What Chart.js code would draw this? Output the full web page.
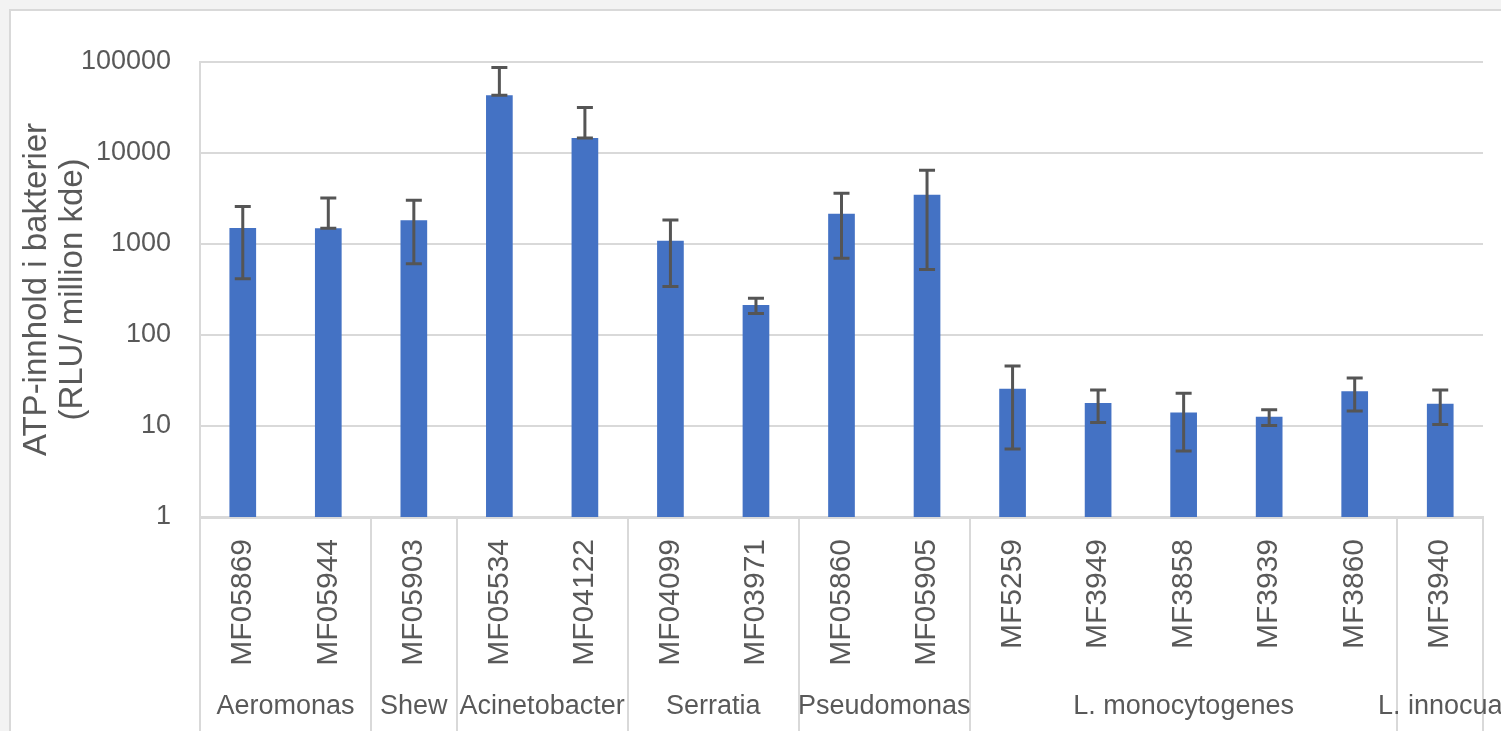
<!DOCTYPE html>
<html>
<head>
<meta charset="utf-8">
<style>
  html, body { margin: 0; padding: 0; background: #f3f3f3; }
  #wrap { width: 1501px; height: 731px; }
</style>
<script src="https://cdn.jsdelivr.net/npm/chart.js@4/dist/chart.umd.min.js"></script>
</head>
<body>
<div id="wrap"><canvas id="c" width="1501" height="731"></canvas></div>
<script>
// Strains, grouped by genus/species
const strains = ['MF05869','MF05944','MF05903','MF05534','MF04122','MF04099','MF03971',
                 'MF05860','MF05905','MF5259','MF3949','MF3858','MF3939','MF3860','MF3940'];
const groupNames = ['Aeromonas','Shew','Acinetobacter','Serratia','Pseudomonas','L. monocytogenes','L. innocua'];
const groupSizes = [2, 1, 2, 2, 2, 5, 1];

// ATP content (RLU per million cfu) and standard deviation
const atpMean = [1500, 1486, 1819, 43150, 14660, 1087, 213, 2153, 3484, 25.6, 17.9, 14.1, 12.6, 24.1, 17.6];
const atpSd   = [1085, 1720, 1212, 43800, 16900, 745, 41, 1455, 2960, 20, 7, 8.8, 2.5, 9.5, 7.2];

// Log axis ticks
const yTicks = [1, 10, 100, 1000, 10000, 100000];

const TEXT = '#595959';
const GRID = '#d9d9d9';
const FONT = "'Liberation Sans', Arial, sans-serif";

const frame = {
  id: 'frame',
  beforeDraw(chart) {
    const ctx = chart.ctx;
    ctx.save();
    ctx.fillStyle = '#f3f3f3';
    ctx.fillRect(0, 0, chart.width, chart.height);
    ctx.fillStyle = '#ffffff';
    ctx.fillRect(10, 10, chart.width, chart.height);
    ctx.strokeStyle = GRID;
    ctx.lineWidth = 2;
    ctx.beginPath();
    ctx.moveTo(10, chart.height + 5);
    ctx.lineTo(10, 10);
    ctx.lineTo(chart.width + 5, 10);
    ctx.stroke();
    ctx.restore();
  }
};

const errorBars = {
  id: 'errorBars',
  afterDatasetsDraw(chart) {
    const ctx = chart.ctx;
    const y = chart.scales.y;
    const meta = chart.getDatasetMeta(0);
    ctx.save();
    ctx.strokeStyle = '#555555';
    ctx.lineWidth = 3;
    meta.data.forEach((bar, i) => {
      const m = atpMean[i], s = atpSd[i];
      const hi = y.getPixelForValue(m + s);
      const lo = y.getPixelForValue(m - s > 0 ? m - s : m);
      const x = bar.x;
      ctx.beginPath();
      ctx.moveTo(x, hi); ctx.lineTo(x, lo);
      ctx.moveTo(x - 8, hi); ctx.lineTo(x + 8, hi);
      ctx.moveTo(x - 8, lo); ctx.lineTo(x + 8, lo);
      ctx.stroke();
    });
    ctx.restore();
  }
};

const groupAxis = {
  id: 'groupAxis',
  afterDraw(chart) {
    const ctx = chart.ctx;
    const x = chart.scales.x;
    const area = chart.chartArea;
    ctx.save();
    ctx.strokeStyle = GRID;
    ctx.lineWidth = 2;
    ctx.fillStyle = TEXT;
    ctx.font = '27px ' + FONT;
    ctx.textAlign = 'center';
    ctx.textBaseline = 'middle';
    let start = 0;
    const bounds = [start];
    groupSizes.forEach(n => { start += n; bounds.push(start); });
    bounds.forEach(b => {
      const px = Math.round(x.getPixelForValue(b - 0.5));
      ctx.beginPath();
      ctx.moveTo(px, area.bottom);
      ctx.lineTo(px, chart.height + 5);
      ctx.stroke();
    });
    groupNames.forEach((name, g) => {
      const a = x.getPixelForValue(bounds[g] - 0.5);
      const b = x.getPixelForValue(bounds[g + 1] - 0.5);
      ctx.fillText(name, (a + b) / 2, 707);
    });
    ctx.restore();
  }
};

new Chart(document.getElementById('c'), {
  type: 'bar',
  data: {
    labels: strains,
    datasets: [{
      data: atpMean,
      backgroundColor: '#4472c4',
      borderWidth: 0,
      barPercentage: 0.312,
      categoryPercentage: 1.0
    }]
  },
  options: {
    responsive: false,
    animation: false,
    devicePixelRatio: 1,
    layout: { padding: { left: 0, top: 62, right: 18, bottom: 0 } },
    plugins: { legend: { display: false }, tooltip: { enabled: false } },
    scales: {
      x: {
        type: 'category',
        offset: true,
        grid: {
          drawTicks: false,
          lineWidth: 2,
          color: ctx => (ctx.index === 0 || ctx.index === strains.length) ? GRID : 'rgba(0,0,0,0)'
        },
        border: { display: true, color: GRID, width: 3 },
        ticks: {
          color: TEXT,
          font: { family: FONT, size: 30 },
          minRotation: 90,
          maxRotation: 90,
          autoSkip: false,
          padding: 22
        },
        afterFit(scale) { scale.height = 214; }
      },
      y: {
        type: 'logarithmic',
        min: 1,
        max: 100000,
        grid: { color: GRID, lineWidth: 2, drawTicks: false },
        border: { display: true, color: GRID, width: 2 },
        ticks: {
          color: TEXT,
          font: { family: FONT, size: 27 },
          padding: 29,
          callback: v => String(v)
        },
        afterBuildTicks(scale) { scale.ticks = yTicks.map(v => ({ value: v })); },
        afterFit(scale) { scale.width = 200; },
        title: {
          display: true,
          text: ['ATP-innhold i bakterier', '(RLU/ million kde)'],
          color: TEXT,
          font: { family: FONT, size: 33, lineHeight: 36 / 33 },
          padding: { top: 19, bottom: 0 }
        }
      }
    }
  },
  plugins: [frame, errorBars, groupAxis]
});
</script>
</body>
</html>
